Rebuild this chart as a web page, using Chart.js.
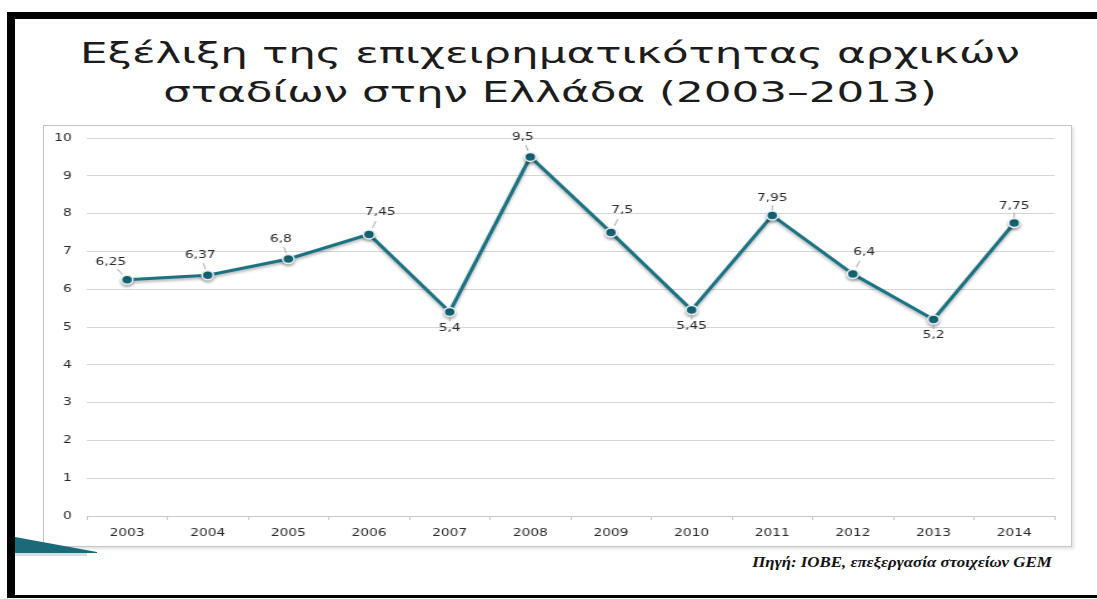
<!DOCTYPE html>
<html>
<head>
<meta charset="utf-8">
<script src="https://cdn.jsdelivr.net/npm/chart.js@4.4.0/dist/chart.umd.min.js"></script>
<style>
  body { margin: 0; width: 1097px; height: 599px; background: #fff; position: relative; overflow: hidden; font-family: "DejaVu Sans", sans-serif; }
  .frame { position: absolute; background: #000; }
  .title-line { position: absolute; left: 550px; font-size: 29px; line-height: 34px; color: #1c1c1c; white-space: nowrap; transform-origin: 50% 50%; }
  #box { position: absolute; left: 43px; top: 125px; width: 1029px; height: 422px; box-sizing: border-box; border: 1px solid #c4c4c4; box-shadow: 2px 2px 3px rgba(0,0,0,0.12); background: #fff; }
  #plot { position: absolute; left: 43px; top: 125px; width: 823px; height: 422px; transform-origin: 0 0; }
  #wedge { position: absolute; left: 15px; top: 537px; width: 82px; height: 16px; background: #1b6a7a; clip-path: polygon(0 0, 100% 94%, 100% 100%, 0 100%); }
  #wedge-glow { position: absolute; left: 15px; top: 553px; width: 72px; height: 3px; background: #d3e0e3; }
  #source { position: absolute; left: 902px; top: 554px; font-family: "Liberation Serif", serif; font-style: italic; font-weight: bold; font-size: 14px; line-height: 18px; color: #111; white-space: nowrap; transform-origin: 50% 50%; }
</style>
</head>
<body>
<div class="frame" style="left:7px;top:12px;width:1090px;height:7px"></div>
<div class="frame" style="left:7px;top:12px;width:8px;height:586px"></div>
<div class="frame" style="left:7px;top:595px;width:1090px;height:3px"></div>

<span class="title-line" id="t1" style="top:36px">Εξέλιξη της επιχειρηματικότητας αρχικών</span>
<span class="title-line" id="t2" style="top:75px">σταδίων στην Ελλάδα (2003–2013)</span>

<div id="box"></div>
<div id="plot"><canvas id="chart" width="823" height="422"></canvas></div>
<div id="wedge-glow"></div>
<div id="wedge"></div>

<span id="source">Πηγή: ΙΟΒΕ, επεξεργασία στοιχείων GEM</span>

<script>
const years = ["2003", "2004", "2005", "2006", "2007", "2008", "2009", "2010", "2011", "2012", "2013", "2014"];
const teaValues = [6.25, 6.37, 6.8, 7.45, 5.4, 9.5, 7.5, 5.45, 7.95, 6.4, 5.2, 7.75];
const yMin = 0;
const yMax = 10;
const yStep = 1;

// the whole chart is stretched sideways
const stretchX = 1029 / 823;
document.getElementById("plot").style.transform = "scaleX(" + stretchX + ")";

const fitWidth = (el, width, scale) => {
    const s = scale || width / el.offsetWidth;
    el.style.transform = "translateX(-50%) scaleX(" + s + ")";
    return s;
};
const titleScale = fitWidth(document.getElementById("t1"), 940);
fitWidth(document.getElementById("t2"), 0, titleScale);
fitWidth(document.getElementById("source"), 299);

const lineShadow = {
    id: "lineShadow",
    beforeDatasetsDraw(chart) {
        const ctx = chart.ctx;
        ctx.save();
        ctx.shadowColor = "rgba(0,0,0,0.3)";
        ctx.shadowBlur = 3;
        ctx.shadowOffsetY = 2;
    },
    afterDatasetsDraw(chart) {
        chart.ctx.restore();
    }
};

// value labels with a short leader line to each point
const pointLabels = {
    id: "pointLabels",
    afterDatasetsDraw(chart, args, opts) {
        const ctx = chart.ctx;
        const meta = chart.getDatasetMeta(0);
        const values = chart.data.datasets[0].data;
        ctx.save();
        ctx.font = opts.font;
        ctx.textAlign = "center";
        ctx.textBaseline = "middle";
        meta.data.forEach((pt, i) => {
            const off = opts.offsets[opts.placement[i]];
            ctx.strokeStyle = opts.leaderColor;
            ctx.lineWidth = 1;
            ctx.beginPath();
            ctx.moveTo(pt.x + off[0] * 0.3, pt.y + off[1] * 0.3);
            ctx.lineTo(pt.x + off[0] * 0.6, pt.y + off[1] * 0.6);
            ctx.stroke();
            ctx.fillStyle = opts.color;
            ctx.fillText(String(values[i]).replace(".", ","), pt.x + off[0], pt.y + off[1]);
        });
        ctx.restore();
    }
};

const tickFont = { family: "DejaVu Sans", size: 11 };

new Chart(document.getElementById("chart"), {
    type: "line",
    data: {
        labels: years,
        datasets: [{
            data: teaValues,
            borderColor: "#1a7383",
            borderWidth: 3,
            tension: 0,
            pointRadius: 4.5,
            pointBackgroundColor: "#166676",
            pointBorderColor: "#e6f2f4",
            pointBorderWidth: 1.5
        }]
    },
    options: {
        responsive: false,
        animation: false,
        layout: { padding: { top: 13, right: 14, left: 0, bottom: 0 } },
        plugins: {
            legend: { display: false },
            tooltip: { enabled: false },
            pointLabels: {
                font: "11px 'DejaVu Sans'",
                color: "#2a2a2a",
                leaderColor: "#a8a8a8",
                offsets: { nw: [-13, -18], n: [-6, -20], ne: [9, -22], up: [0, -17], s: [0, 16] },
                placement: ["nw", "n", "n", "ne", "s", "n", "ne", "s", "up", "ne", "s", "up"]
            }
        },
        scales: {
            x: {
                offset: true,
                grid: { offset: true, drawOnChartArea: false, drawTicks: true, tickLength: 4, color: "#c8c8c8" },
                border: { color: "#c8c8c8" },
                ticks: { padding: 7, color: "#2a2a2a", font: tickFont, maxRotation: 0 },
                afterFit: (scale) => { scale.height = 31; }
            },
            y: {
                min: yMin,
                max: yMax,
                ticks: { stepSize: yStep, padding: 12, color: "#2a2a2a", font: tickFont },
                grid: { color: "#d6d6d6", drawTicks: false },
                border: { display: false },
                afterFit: (scale) => {
                    scale.width = 35;
                    // tick padding is horizontal here, keep it out of the top/bottom space
                    scale.paddingTop = 7;
                    scale.paddingBottom = 7;
                }
            }
        }
    },
    plugins: [lineShadow, pointLabels]
});
</script>
</body>
</html>
